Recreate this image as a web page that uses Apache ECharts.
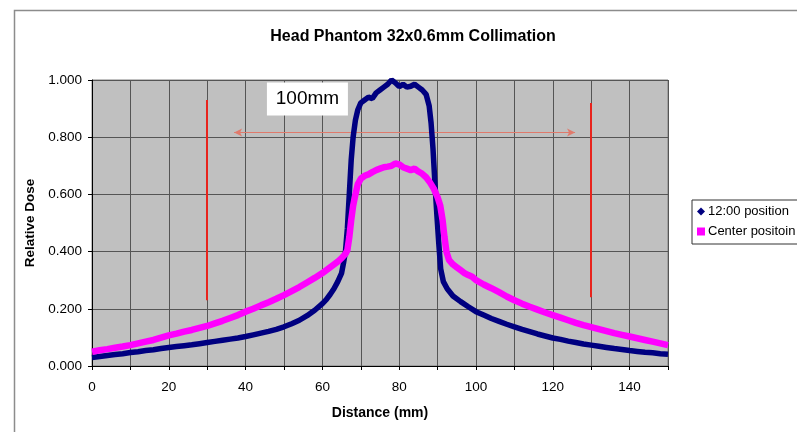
<!DOCTYPE html>
<html>
<head>
<meta charset="utf-8">
<script src="https://cdn.jsdelivr.net/npm/echarts@6/dist/echarts.min.js"></script>
<style>html,body{margin:0;padding:0;background:#fff}#c{width:797px;height:432px}</style>
</head>
<body>
<div id="c"></div>
<script>
const titleText = 'Head Phantom 32x0.6mm Collimation';
const xAxisName = 'Distance (mm)';
const yAxisName = 'Relative Dose';
const seriesNames = ['12:00 position', 'Center positoin'];

const pos12X = [0,2,4,6,8,10,12,14,16,18,20,22,24,26,28,30,32,34,36,38,40,42,44,46,48,50,52,54,56,58,60,61,62,63,64,65,65.5,66,66.5,67,67.5,68,68.6,69.2,70,71,72,73,74,75,76,77,78,79,80,81,82,83,84,85,86,87,87.8,88.3,88.8,89.3,89.8,90.3,90.8,91.5,92.5,94,96,98,100,102,104,106,108,110,112,114,116,118,120,122,124,126,128,130,132,134,136,138,140,142,144,146,148,150];
const pos12Y = [0.030,0.033,0.037,0.040,0.043,0.047,0.050,0.054,0.057,0.061,0.065,0.068,0.071,0.074,0.078,0.082,0.086,0.090,0.094,0.098,0.103,0.109,0.115,0.121,0.128,0.137,0.148,0.160,0.176,0.195,0.218,0.232,0.250,0.270,0.295,0.325,0.360,0.400,0.480,0.600,0.720,0.800,0.860,0.895,0.920,0.930,0.940,0.935,0.955,0.965,0.975,0.985,1.000,0.990,0.977,0.985,0.975,0.978,0.985,0.975,0.965,0.950,0.910,0.850,0.760,0.640,0.530,0.430,0.340,0.295,0.270,0.245,0.225,0.207,0.190,0.178,0.166,0.156,0.146,0.137,0.128,0.120,0.112,0.105,0.098,0.093,0.087,0.082,0.077,0.073,0.069,0.065,0.061,0.058,0.054,0.051,0.048,0.046,0.043,0.041];

const centerX = [0,2,4,6,8,10,12,14,16,18,20,22,24,26,28,30,32,34,36,38,40,42,44,46,48,50,52,54,56,58,60,62,64,65,66,66.5,67,67.5,68,68.6,69.2,70,71,72,73,74,75,76,77,78,79,80,81,82,83,84,85,86,87,88,89,90,90.7,91.3,91.8,92.3,93,94,95,96,97,98,99,100,102,104,106,108,110,112,114,116,118,120,122,124,126,128,130,132,134,136,138,140,142,144,146,148,150];
const centerY = [0.050,0.055,0.059,0.064,0.068,0.073,0.079,0.085,0.091,0.099,0.107,0.113,0.120,0.126,0.133,0.140,0.149,0.158,0.168,0.178,0.190,0.200,0.212,0.223,0.235,0.248,0.262,0.276,0.292,0.308,0.325,0.345,0.365,0.377,0.392,0.405,0.450,0.510,0.560,0.600,0.635,0.655,0.665,0.670,0.678,0.685,0.690,0.695,0.697,0.700,0.708,0.705,0.695,0.690,0.685,0.690,0.680,0.672,0.660,0.642,0.620,0.590,0.560,0.510,0.450,0.400,0.370,0.355,0.345,0.335,0.325,0.318,0.312,0.300,0.285,0.272,0.258,0.243,0.230,0.218,0.207,0.197,0.187,0.178,0.169,0.160,0.151,0.143,0.136,0.129,0.122,0.115,0.109,0.103,0.097,0.091,0.085,0.079,0.073];

// annotations (data coordinates)
const markerLeft = [[30, 0.93], [30, 0.23]];
const markerRight = [[130, 0.92], [130, 0.24]];
const spanArrow = [[37, 0.816], [125.8, 0.816]];
const spanLabel = { text: '100mm', x: 56.1, y: 0.934 };

const chart = echarts.init(document.getElementById('c'));
const zip = (xs, ys) => xs.map((x, i) => [x, ys[i]]);
const FONT = 'Liberation Sans, Arial, sans-serif';

chart.setOption({
  animation: false,
  backgroundColor: '#ffffff',
  textStyle: { fontFamily: FONT },
  title: {
    text: titleText, left: 408, top: 24, textAlign: 'center',
    textStyle: { fontSize: 16, fontWeight: 'bold', color: '#000', fontFamily: FONT }
  },
  graphic: [{
    type: 'rect', left: 12, top: 8, shape: { width: 820, height: 460 },
    style: { fill: 'none', stroke: '#8c8c8c', lineWidth: 1.5 }, z: -1
  }],
  grid: {
    left: 92, right: 129, top: 80, bottom: 66, show: true,
    backgroundColor: '#c0c0c0', borderColor: '#808080', borderWidth: 1
  },
  legend: {
    left: 692, top: 200, orient: 'vertical', itemGap: 7,
    itemWidth: 8, itemHeight: 8, padding: [5, 40, 6, 5],
    borderColor: '#333', borderWidth: 1, backgroundColor: '#fff',
    textStyle: { fontSize: 13, color: '#000', padding: [0, 0, 0, -2] },
    data: [
      { name: seriesNames[0], icon: 'diamond', itemStyle: { color: '#000080' } },
      { name: seriesNames[1], icon: 'rect', itemStyle: { color: '#ff00ff' } }
    ]
  },
  xAxis: {
    type: 'value', min: 0, max: 150, interval: 10,
    name: xAxisName, nameLocation: 'middle', nameGap: 40,
    nameTextStyle: { fontSize: 14, fontWeight: 'bold', color: '#000' },
    axisLine: { show: true, lineStyle: { color: '#000' } },
    axisTick: { show: true, length: 4, lineStyle: { color: '#000' } },
    axisLabel: { fontSize: 13.5, color: '#000', margin: 14,
      formatter: v => (v % 20 === 0 && v <= 140) ? String(v) : '' },
    splitLine: { show: true, lineStyle: { color: '#555', width: 1 } }
  },
  yAxis: {
    type: 'value', min: 0, max: 1, interval: 0.2,
    name: yAxisName, nameLocation: 'middle', nameGap: 51,
    nameTextStyle: { fontSize: 13.5, fontWeight: 'bold', color: '#000' },
    axisLine: { show: true, lineStyle: { color: '#000' } },
    axisTick: { show: true, length: 4, lineStyle: { color: '#000' } },
    axisLabel: { fontSize: 13.5, color: '#000', margin: 10, formatter: v => v.toFixed(3) },
    splitLine: { show: true, lineStyle: { color: '#555', width: 1 } }
  },
  series: [
    {
      name: seriesNames[0], type: 'line', data: zip(pos12X, pos12Y),
      showSymbol: false, symbol: 'diamond', itemStyle: { color: '#000080' },
      lineStyle: { color: '#000080', width: 5.5 }, z: 3,
      markLine: {
        silent: true, symbol: ['none', 'none'], label: { show: false },
        lineStyle: { color: '#e8231c', width: 2, type: 'solid' },
        data: [
          [{ coord: markerLeft[0] }, { coord: markerLeft[1] }],
          [{ coord: markerRight[0] }, { coord: markerRight[1] }]
        ]
      }
    },
    {
      name: seriesNames[1], type: 'line', data: zip(centerX, centerY),
      showSymbol: false, symbol: 'rect', itemStyle: { color: '#ff00ff' },
      lineStyle: { color: '#ff00ff', width: 6.5 }, z: 4,
      markLine: {
        silent: true, symbol: ['arrow', 'arrow'], symbolSize: [6, 8], label: { show: false },
        lineStyle: { color: '#e07a6c', width: 1, type: 'solid' }, z: 2,
        data: [[{ coord: spanArrow[0] }, { coord: spanArrow[1] }]]
      },
      markPoint: {
        silent: true, symbol: 'rect', symbolSize: [81, 33],
        itemStyle: { color: '#ffffff' },
        label: { show: true, position: 'inside', formatter: spanLabel.text, fontSize: 19, color: '#000' },
        data: [{ coord: [spanLabel.x, spanLabel.y] }]
      }
    }
  ]
});
</script>
</body>
</html>
